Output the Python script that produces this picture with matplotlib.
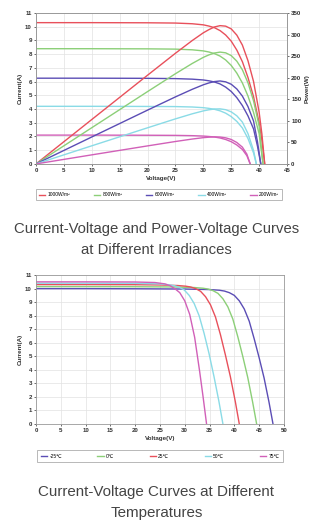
import matplotlib.pyplot as plt
import numpy as np

plt.rcParams['font.family'] = ['Liberation Sans', 'DejaVu Sans']

# irradiance curves (25C)
irr_labels = ['1000W/m²', '800W/m²', '600W/m²', '400W/m²', '200W/m²']
irr_colors = ['#e8505b', '#8ccf78', '#5b4db5', '#8adbe6', '#d160b8']

v1000 = [0, 10, 20, 25, 28, 30, 31, 32, 33, 34, 35, 36, 37, 38, 39, 40, 40.5, 41]
i1000 = [10.3, 10.3, 10.29, 10.27, 10.22, 10.14, 10.05, 9.93, 9.72, 9.4, 8.95, 8.3, 7.45, 6.3, 4.9, 3.0, 1.7, 0]
v800 = [0, 10, 20, 25, 28, 30, 31, 32, 33, 34, 35, 36, 37, 38, 39, 40, 40.7]
i800 = [8.4, 8.4, 8.39, 8.37, 8.32, 8.24, 8.16, 8.04, 7.86, 7.58, 7.18, 6.62, 5.9, 4.95, 3.75, 2.2, 0]
v600 = [0, 10, 20, 25, 28, 30, 31, 32, 33, 34, 35, 36, 37, 38, 39, 39.7, 40.3]
i600 = [6.25, 6.25, 6.24, 6.22, 6.18, 6.12, 6.06, 5.97, 5.83, 5.6, 5.28, 4.83, 4.25, 3.5, 2.55, 1.3, 0]
v400 = [0, 10, 20, 25, 28, 30, 31, 32, 33, 34, 35, 36, 37, 38, 39, 39.5]
i400 = [4.2, 4.2, 4.19, 4.18, 4.15, 4.1, 4.05, 3.98, 3.87, 3.7, 3.45, 3.1, 2.62, 1.85, 0.8, 0]
v200 = [0, 10, 20, 25, 28, 30, 31, 32, 33, 34, 35, 36, 37, 37.8, 38.4]
i200 = [2.1, 2.1, 2.09, 2.08, 2.06, 2.03, 2.0, 1.96, 1.89, 1.78, 1.62, 1.38, 1.05, 0.6, 0]

irr_v = [v1000, v800, v600, v400, v200]
irr_i = [i1000, i800, i600, i400, i200]

# temperature curves (1000 W/m2)
temp_labels = ['-25℃', '0℃', '25℃', '50℃', '75℃']
temp_colors = ['#5b4db5', '#8ccf78', '#e8505b', '#8adbe6', '#d160b8']

vm25 = [0, 10, 20, 30, 35, 37, 38, 39, 40, 41, 42, 43, 44, 45, 46, 47, 47.8]
im25 = [10.0, 10.0, 9.99, 9.97, 9.93, 9.88, 9.82, 9.7, 9.5, 9.1, 8.5, 7.6, 6.3, 4.9, 3.4, 1.6, 0]
v0 = [0, 10, 20, 28, 32, 33.7, 34.7, 35.7, 36.7, 37.7, 38.7, 39.7, 40.7, 41.7, 42.7, 43.7, 44.5]
i0 = [10.15, 10.15, 10.14, 10.12, 10.08, 10.03, 9.97, 9.85, 9.65, 9.25, 8.65, 7.75, 6.45, 5.0, 3.45, 1.6, 0]
v25 = [0, 10, 20, 25, 28.5, 30.2, 31.2, 32.2, 33.2, 34.2, 35.2, 36.2, 37.2, 38.2, 39.2, 40.2, 41.0]
i25 = [10.3, 10.3, 10.29, 10.27, 10.23, 10.18, 10.12, 10.0, 9.8, 9.4, 8.8, 7.9, 6.6, 5.1, 3.5, 1.65, 0]
v50 = [0, 10, 20, 25, 26.9, 27.9, 28.9, 29.9, 30.9, 31.9, 32.9, 33.9, 34.9, 35.9, 36.9, 37.7]
i50 = [10.4, 10.4, 10.39, 10.35, 10.28, 10.22, 10.1, 9.9, 9.5, 8.9, 8.0, 6.7, 5.2, 3.5, 1.65, 0]
v75 = [0, 10, 20, 24, 26, 27, 28, 29, 30, 31, 32, 33, 33.7, 34.4]
i75 = [10.5, 10.5, 10.49, 10.45, 10.35, 10.22, 10.0, 9.7, 9.1, 8.1, 6.4, 3.9, 2.0, 0]

temp_v = [vm25, v0, v25, v50, v75]
temp_i = [im25, i0, i25, i50, i75]

tick_kw = dict(labelsize=4.4, colors='#333333', length=1.5, width=0.5, pad=1.5)


def style_axes(ax):
    ax.grid(True, color='#e2e2e2', lw=0.5)
    ax.set_axisbelow(True)
    for s in ax.spines.values():
        s.set_color('#999999')
        s.set_linewidth(0.6)
    ax.tick_params(**tick_kw)
    for lab in ax.get_xticklabels() + ax.get_yticklabels():
        lab.set_fontweight('bold')


fig = plt.figure(figsize=(3.13, 5.22), dpi=100)

# top chart
ax1 = fig.add_axes([0.115, 0.686, 0.802, 0.289])
ax2 = ax1.twinx()
for v, i, c, lab in zip(irr_v, irr_i, irr_colors, irr_labels):
    v = np.array(v)
    i = np.array(i)
    ax1.plot(v, i, color=c, lw=1.0, label=lab)
    ax2.plot(v, v * i, color=c, lw=1.0)
ax1.set_xlim(0, 45)
ax1.set_ylim(0, 11)
ax2.set_ylim(0, 350)
ax1.set_xticks(range(0, 46, 5))
ax1.set_yticks(range(0, 12))
ax2.set_yticks(range(0, 351, 50))
style_axes(ax1)
ax2.tick_params(**tick_kw)
for lab in ax2.get_yticklabels():
    lab.set_fontweight('bold')
ax2.grid(False)
for s in ax2.spines.values():
    s.set_color('#999999')
    s.set_linewidth(0.6)
ax1.set_ylabel('Current(A)', fontsize=4.5, fontweight='bold', color='#333333', labelpad=2)
ax2.set_ylabel('Power(W)', fontsize=4.5, fontweight='bold', color='#333333', labelpad=2)
ax1.set_xlabel('Voltage(V)', fontsize=4.5, fontweight='bold', color='#333333', labelpad=2)
leg1 = ax1.legend(loc='center', bbox_to_anchor=(-0.01, -0.235, 1.0, 0.06), mode='expand',
                  ncol=5, fontsize=3.5, frameon=True, fancybox=False, handlelength=1.3,
                  handletextpad=0.5, borderpad=0.6, columnspacing=1.0)
leg1.get_frame().set_edgecolor('#999999')
leg1.get_frame().set_linewidth(0.6)

fig.text(0.5, 0.561, 'Current-Voltage and Power-Voltage Curves', ha='center', va='center',
         fontsize=10.7, color='#444444')
fig.text(0.5, 0.521, 'at Different Irradiances', ha='center', va='center',
         fontsize=10.7, color='#444444')

# bottom chart
ax3 = fig.add_axes([0.115, 0.188, 0.792, 0.285])
for v, i, c, lab in zip(temp_v, temp_i, temp_colors, temp_labels):
    ax3.plot(v, i, color=c, lw=1.0, label=lab)
ax3.set_xlim(0, 50)
ax3.set_ylim(0, 11)
ax3.set_xticks(range(0, 51, 5))
ax3.set_yticks(range(0, 12))
style_axes(ax3)
ax3.set_ylabel('Current(A)', fontsize=4.5, fontweight='bold', color='#333333', labelpad=2)
ax3.set_xlabel('Voltage(V)', fontsize=4.5, fontweight='bold', color='#333333', labelpad=2)
leg2 = ax3.legend(loc='center', bbox_to_anchor=(-0.005, -0.25, 1.01, 0.065), mode='expand',
                  ncol=5, fontsize=3.5, frameon=True, fancybox=False, handlelength=1.3,
                  handletextpad=0.5, borderpad=0.7, columnspacing=1.0)
leg2.get_frame().set_edgecolor('#999999')
leg2.get_frame().set_linewidth(0.6)

fig.text(0.5, 0.057, 'Current-Voltage Curves at Different', ha='center', va='center',
         fontsize=10.9, color='#444444')
fig.text(0.5, 0.017, 'Temperatures', ha='center', va='center',
         fontsize=10.9, color='#444444')

fig.savefig('out.png', dpi=100)
